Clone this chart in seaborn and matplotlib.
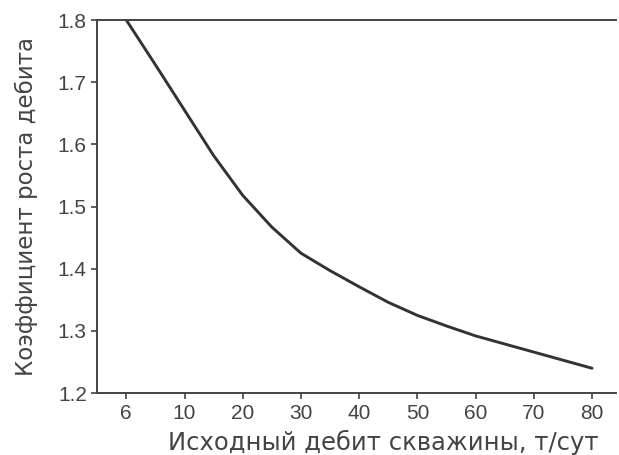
import matplotlib
matplotlib.use("Agg")
import matplotlib.pyplot as plt
import seaborn as sns

# --- DATOS ---
tick_labels = ["6", "10", "20", "30", "40", "50", "60", "70", "80"]
# posiciones en unidades de marca (0 = "6", 8 = "80"), incluye puntos intermedios
x_pos = [0, 0.5, 1, 1.5, 2, 2.5, 3, 3.5, 4, 4.5, 5, 5.5, 6, 6.5, 7, 7.5, 8]
coef = [1.800, 1.728, 1.655, 1.582, 1.518, 1.467, 1.425, 1.397, 1.371,
        1.346, 1.325, 1.308, 1.292, 1.279, 1.266, 1.253, 1.240]
y_ticks = [1.2, 1.3, 1.4, 1.5, 1.6, 1.7, 1.8]

sns.set_style("ticks")
plt.rcParams['font.family'] = ['Liberation Sans', 'DejaVu Sans']

fig = plt.figure(figsize=(6.19, 4.55), dpi=100)
ax = fig.add_axes([0.157, 0.136, 0.838, 0.820])

sns.lineplot(x=x_pos, y=coef, ax=ax, color="#333333", linewidth=2.1)

ax.set_xlim(-0.5, 8.41)
ax.set_ylim(1.2, 1.8)
ax.set_xticks(range(len(tick_labels)))
ax.set_xticklabels(tick_labels)
ax.set_yticks(y_ticks)
ax.set_yticklabels([f"{v:.1f}" for v in y_ticks])

ax.tick_params(axis="both", labelsize=15, colors="#444444", length=4, width=1.2)
ax.set_xlabel("Исходный дебит скважины, т/сут", fontsize=17.5, color="#444444",
              family=["DejaVu Sans"])
ax.xaxis.set_label_coords(0.551, -0.098)
ax.set_ylabel("Коэффициент роста дебита", fontsize=16.5, color="#444444",
              labelpad=14, family=["DejaVu Sans"])

for side in ["left", "bottom", "top"]:
    ax.spines[side].set_color("#444444")
    ax.spines[side].set_linewidth(1.4)
ax.spines["right"].set_visible(False)

fig.savefig("out.png", dpi=100)
plt.close(fig)
